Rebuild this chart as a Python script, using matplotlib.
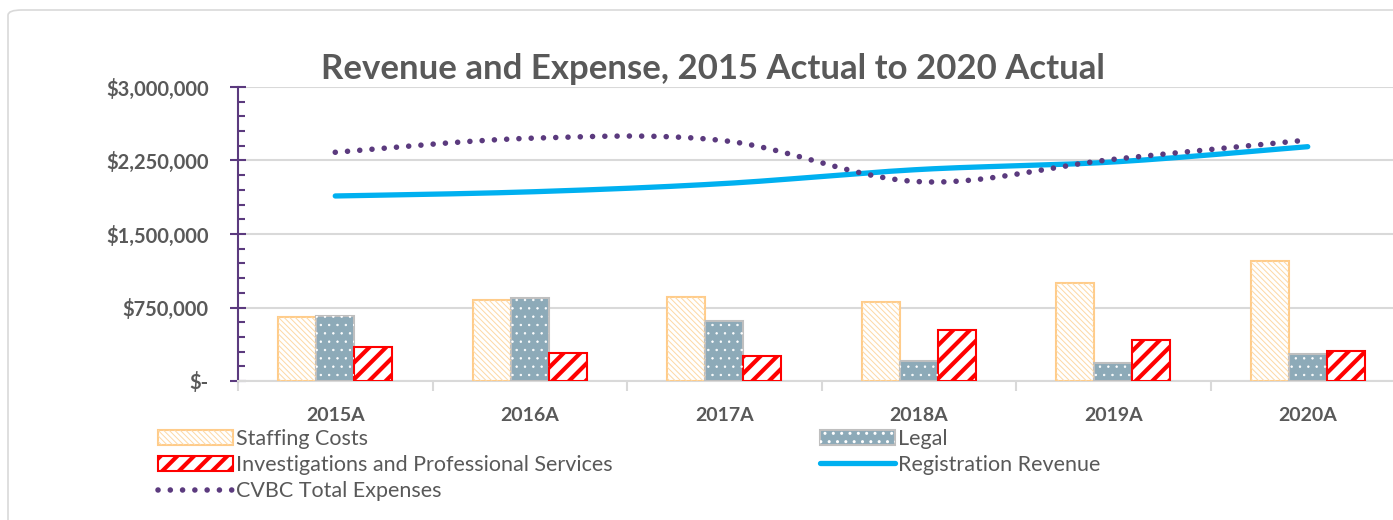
import numpy as np
import matplotlib
matplotlib.use("Agg")
import matplotlib.pyplot as plt
from matplotlib.ticker import MultipleLocator, FuncFormatter, FixedLocator
from matplotlib.patches import FancyBboxPatch, Rectangle
from matplotlib.lines import Line2D
from matplotlib.legend_handler import HandlerTuple, HandlerPatch

# -------------------------
# Data
# -------------------------
years = ["2015A", "2016A", "2017A", "2018A", "2019A", "2020A"]
staffing = [656000, 826000, 857000, 806000, 1000000, 1221000]
legal = [665000, 847000, 612000, 207000, 187000, 272000]
investigations = [347000, 286000, 255000, 517000, 421000, 303000]
revenue = [1888000, 1930000, 2015000, 2158000, 2235000, 2391000]
total_expenses = [2334000, 2477000, 2452000, 2034000, 2262000, 2459000]

GRAY_TXT = "#595959"
GRID = "#D9D9D9"
PURPLE = "#5B3A7E"
BLUE = "#00B0F0"
ORANGE = "#FFCC8A"
ORANGE_HATCH = "#FDD8A4"
LEGAL_FACE = "#8DAAB8"
LEGAL_EDGE = "#BFBFBF"
RED = "#FF0000"

plt.rcParams["font.family"] = ["Lato", "DejaVu Sans"]


def smooth(xs, ys, n=40):
    # Catmull-Rom style curve, similar to Excel's "smoothed line"
    xs = np.asarray(xs, float)
    ys = np.asarray(ys, float)
    px = np.concatenate([[xs[0]], xs, [xs[-1]]])
    py = np.concatenate([[ys[0]], ys, [ys[-1]]])
    outx, outy = [], []
    t = np.linspace(0, 1, n)
    for i in range(1, len(px) - 2):
        p0, p1, p2, p3 = (np.array([px[j], py[j]]) for j in (i - 1, i, i + 1, i + 2))
        c1 = p1 + (p2 - p0) / 6
        c2 = p2 - (p3 - p1) / 6
        b = ((1 - t) ** 3)[:, None] * p1 + (3 * (1 - t) ** 2 * t)[:, None] * c1 \
            + (3 * (1 - t) * t ** 2)[:, None] * c2 + (t ** 3)[:, None] * p2
        outx.extend(b[:, 0])
        outy.extend(b[:, 1])
    return outx, outy


def keep_hatch_lw(legend, orig_handle, xdescent, ydescent, width, height, fontsize):
    # legend copies drop the per-patch hatch width, so carry it over
    p = Rectangle((-xdescent, -ydescent), width, height)
    lw = getattr(orig_handle, "_hatch_linewidth", None)
    if lw is not None and hasattr(p, "set_hatch_linewidth"):
        p.set_hatch_linewidth(lw)
    return p


fig = plt.figure(figsize=(13.93, 5.2), dpi=100)

# chart border
border = FancyBboxPatch((8 / 1393, -0.1), 1.2, 1 - 10 / 520 + 0.1,
                        boxstyle="round,pad=0,rounding_size=0.01",
                        transform=fig.transFigure, facecolor="none",
                        edgecolor=GRID, linewidth=1.2)
fig.patches.append(border)

ax = fig.add_axes([238 / 1393, 1 - 381 / 520, (1405 - 238) / 1393, (381 - 87) / 520])

x = np.arange(len(years))
w = 0.195

# staffing: white fill, fine pale-orange hatch, orange outline
b_staff = ax.bar(x - w, staffing, w, facecolor="white", edgecolor=ORANGE,
                 linewidth=1.5, zorder=3)
with plt.rc_context({"hatch.linewidth": 0.7}):
    b_staff_h = ax.bar(x - w, staffing, w, facecolor="none", edgecolor=ORANGE_HATCH,
                       hatch="\\\\\\\\\\\\", linewidth=0, zorder=3.1)
for p in b_staff_h:
    if hasattr(p, "set_hatch_linewidth"):
        p.set_hatch_linewidth(0.7)

b_legal = ax.bar(x, legal, w, facecolor=LEGAL_FACE, edgecolor=LEGAL_EDGE,
                 linewidth=1.5, zorder=3)
with plt.rc_context({"hatch.linewidth": 0.5}):
    b_legal_dots = ax.bar(x, legal, w, facecolor="none", edgecolor="white",
                          hatch="..", linewidth=0, zorder=3.1)

with plt.rc_context({"hatch.linewidth": 3.0}):
    b_inv = ax.bar(x + w, investigations, w, facecolor="white", edgecolor=RED,
                   hatch="//", linewidth=1.5, zorder=3)
for p in b_inv:
    if hasattr(p, "set_hatch_linewidth"):
        p.set_hatch_linewidth(3.0)

rx, ry = smooth(x, revenue)
l_rev, = ax.plot(rx, ry, color=BLUE, lw=3.8, solid_capstyle="round", zorder=4)
ex, ey = smooth(x, total_expenses)
l_exp, = ax.plot(ex, ey, color=PURPLE, lw=4, linestyle=(0, (0.01, 2.2)),
                 dash_capstyle="round", zorder=5)

# -------------------------
# Axes styling
# -------------------------
ax.set_xlim(-0.5, 5.5)
ax.set_ylim(0, 3000000)

ax.yaxis.set_major_locator(MultipleLocator(750000))
ax.yaxis.set_minor_locator(MultipleLocator(150000))
ax.yaxis.set_major_formatter(FuncFormatter(
    lambda v, _: "$-" if v == 0 else f"${v:,.0f}"))
ax.tick_params(axis="y", which="major", direction="inout", length=12, width=1.5,
               color=PURPLE, labelcolor=GRAY_TXT, labelsize=14.5, pad=15)
ax.tick_params(axis="y", which="minor", direction="in", length=5, width=1.5,
               color=PURPLE)
for lab in ax.get_yticklabels():
    lab.set_fontweight("bold")

ax.set_xticks(x)
ax.set_xticklabels(years, fontweight="bold", color=GRAY_TXT, fontsize=14)
ax.xaxis.set_minor_locator(FixedLocator(np.arange(-0.5, 6, 1)))
ax.tick_params(axis="x", which="major", length=0, pad=19)
ax.tick_params(axis="x", which="minor", length=7, width=1.5, color=GRID)

ax.grid(axis="y", which="major", color=GRID, linewidth=1.5, zorder=0)
ax.set_axisbelow(True)
for s in ["top", "right"]:
    ax.spines[s].set_visible(False)
ax.spines["left"].set_color(PURPLE)
ax.spines["left"].set_linewidth(1.5)
ax.spines["bottom"].set_color(GRID)
ax.spines["bottom"].set_linewidth(1.5)

fig.text(713 / 1393, 1 - 69 / 520, "Revenue and Expense, 2015 Actual to 2020 Actual",
         ha="center", va="center", fontsize=25, fontweight="bold", color=GRAY_TXT)

# -------------------------
# Legend
# -------------------------
leg_kw = dict(frameon=False, fontsize=15.5, labelcolor=GRAY_TXT, handlelength=3.5,
              handleheight=0.7, handletextpad=0.1, labelspacing=0.28,
              borderaxespad=0, borderpad=0)
exp_handle = Line2D([], [], color=PURPLE, lw=4, linestyle=(0, (0.01, 2.2)),
                    dash_capstyle="round")
rev_handle = Line2D([], [], color=BLUE, lw=3.8, solid_capstyle="round")
hatch_handler = HandlerPatch(patch_func=keep_hatch_lw)

fig.legend([(b_staff[0], b_staff_h[0]), b_inv[0], exp_handle],
           ["Staffing Costs", "Investigations and Professional Services",
            "CVBC Total Expenses"],
           handler_map={tuple: HandlerTuple(ndivide=1),
                        b_inv[0]: hatch_handler, b_staff_h[0]: hatch_handler},
           loc="upper left", bbox_to_anchor=(158 / 1393, 1 - 429 / 520), **leg_kw)
fig.legend([(b_legal[0], b_legal_dots[0]), rev_handle],
           ["Legal", "Registration Revenue"],
           handler_map={tuple: HandlerTuple(ndivide=1)},
           loc="upper left", bbox_to_anchor=(820 / 1393, 1 - 429 / 520), **leg_kw)

fig.savefig("out.png", dpi=100)
